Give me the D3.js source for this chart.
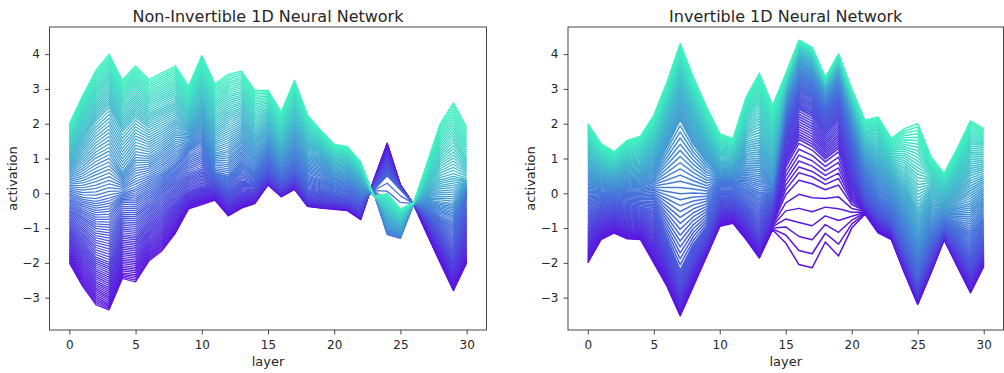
<!DOCTYPE html>
<html><head><meta charset="utf-8">
<script src="https://cdn.jsdelivr.net/npm/d3@7"></script>
<style>
body{margin:0;background:#fff}
svg{display:block}
text{font-family:"DejaVu Sans",sans-serif;fill:#262626}
</style>
</head><body>
<svg id="c" width="1004" height="373"></svg>
<script>
// ---------- data ----------
const layers = d3.range(0, 31);
const xTicks = [0, 5, 10, 15, 20, 25, 30];
const yTicks = [-3, -2, -1, 0, 1, 2, 3, 4];
const titles = ["Non-Invertible 1D Neural Network", "Invertible 1D Neural Network"];
const traceCount = 100;

// Non-invertible network: activation of selected inputs at each layer 0..30
const leftKeys = [-2, -1.85, -1.5, -1, -0.5, -0.3, 0, 0.5, 1, 1.5, 2];
const L_m200 = [-2, -2.67, -3.2, -3.35, -2.45, -2.55, -1.95, -1.65, -1.15, -0.45, -0.33, -0.2, -0.65, -0.43, -0.3, 0.24, -0.1, 0.11, -0.38, -0.43, -0.46, -0.5, -0.76, 0.4, 1.45, 0.25, -0.32, -1.18, -2.0, -2.8, -2.0];
const L_m185 = [-1.85, -2.5, -3.0, -3.2, -2.3, -2.35, -1.8, -1.5, -1.05, -0.38, -0.25, -0.15, -0.6, -0.38, -0.25, 0.26, -0.08, 0.14, -0.36, -0.4, -0.43, -0.47, -0.72, 0.38, 1.38, 0.23, -0.32, -1.1, -1.9, -2.7, -1.9];
const L_m150 = [-1.5, -2.05, -2.55, -2.75, -1.85, -1.9, -1.45, -1.15, -0.7, -0.25, -0.1, -0.05, -0.45, -0.25, -0.15, 0.3, -0.02, 0.2, -0.3, -0.35, -0.38, -0.42, -0.65, 0.33, 1.2, 0.2, -0.31, -0.95, -1.7, -2.45, -1.6];
const L_m100 = [-1, -1.4, -1.85, -2.0, -1.2, -1.25, -0.9, -0.6, -0.25, 0.05, 0.2, 0.15, -0.2, 0.0, 0.05, 0.45, 0.1, 0.35, -0.15, -0.2, -0.25, -0.3, -0.5, 0.25, 0.95, 0.16, -0.31, -0.8, -1.4, -2.0, -1.0];
const L_m050 = [-0.5, -0.75, -1.0, -1.05, -0.55, -0.55, -0.3, 0.0, 0.3, 0.55, 0.7, 0.35, 0.1, 0.35, 0.3, 0.7, 0.3, 0.6, 0.1, 0.05, -0.05, -0.1, -0.3, 0.18, 0.6, 0.12, -0.3, -0.65, -1.05, -1.4, -0.4];
const L_m030 = [-0.3, -0.51, -0.68, -0.67, -0.25, -0.27, -0.04, 0.22, 0.52, 0.81, 0.98, 0.45, 0.26, 0.57, 0.42, 0.86, 0.4, 0.76, 0.26, 0.19, 0.07, 0.02, -0.2, 0.1, 0.5, 0.1, -0.3, -0.55, -0.9, -1.15, -0.1];
const L_p000 = [0, -0.15, -0.2, -0.1, 0.0, 0.15, 0.35, 0.55, 0.85, 1.2, 1.4, 0.6, 0.5, 0.9, 0.6, 1.1, 0.55, 1.0, 0.5, 0.4, 0.25, 0.2, -0.05, 0.0, -1.2, -1.3, -0.3, -0.45, -0.7, -0.85, 0.1];
const L_p050 = [0.5, 0.7, 1.0, 1.2, 0.6, 1.1, 1.05, 1.3, 1.6, 1.6, 2.0, 1.15, 1.25, 1.55, 1.15, 1.5, 0.95, 1.5, 0.95, 0.85, 0.55, 0.5, 0.2, 0.0, -0.95, -1.15, -0.3, -0.2, -0.25, -0.3, 0.2];
const L_p100 = [1, 1.55, 2.1, 2.5, 1.8, 2.2, 1.9, 2.1, 2.3, 2.0, 2.6, 1.8, 2.05, 2.2, 1.7, 2.0, 1.35, 2.05, 1.4, 1.2, 0.85, 0.8, 0.45, -0.05, -0.65, -0.9, -0.29, 0.1, 0.4, 0.5, 0.4];
const L_p150 = [1.5, 2.25, 2.85, 3.3, 2.6, 2.95, 2.6, 2.8, 3.0, 2.5, 3.3, 2.5, 2.75, 2.85, 2.35, 2.45, 1.85, 2.65, 1.85, 1.5, 1.15, 1.1, 0.7, -0.08, -0.35, -0.65, -0.28, 0.45, 1.2, 1.6, 1.0];
const L_p200 = [2, 2.8, 3.53, 4.0, 3.25, 3.66, 3.27, 3.46, 3.66, 3.08, 3.96, 3.15, 3.42, 3.51, 2.96, 2.96, 2.34, 3.25, 2.24, 1.81, 1.41, 1.34, 0.9, -0.1, 0.0, -0.45, -0.27, 0.86, 2.0, 2.6, 1.9];

// Invertible network
const rightKeys = [-2, -1.75, -1.5, -1, -0.5, 0, 0.5, 1, 1.5, 2];
const R_m200 = [-2, -1.33, -1.14, -1.31, -1.33, -2.0, -2.67, -3.52, -2.67, -1.81, -0.95, -0.86, -1.33, -1.86, -1.05, -1.43, -2.05, -2.14, -1.4, -1.8, -1.0, -0.6, -1.14, -1.33, -2.29, -3.19, -2.29, -1.33, -2.1, -2.86, -2.1];
const R_m175 = [-1.75, -1.2, -1.03, -1.18, -1.22, -1.82, -2.47, -3.38, -2.48, -1.7, -0.83, -0.75, -1.18, -1.72, -0.88, 0.0, 0.45, 0.35, 0.15, 0.3, -0.3, -0.5, -1.02, -1.24, -2.22, -3.12, -2.22, -1.3, -2.02, -2.75, -2.0];
const R_m150 = [-1.5, -1.05, -0.9, -1.05, -1.1, -1.6, -2.25, -3.2, -2.3, -1.6, -0.72, -0.65, -1.05, -1.6, -0.75, 0.8, 1.5, 1.3, 0.95, 1.25, 0.1, -0.42, -0.9, -1.15, -2.12, -3.02, -2.12, -1.25, -1.92, -2.6, -1.9];
const R_m100 = [-1, -0.7, -0.6, -0.7, -0.75, -1.0, -1.85, -2.85, -2.0, -1.35, -0.45, -0.4, -0.75, -1.3, -0.45, 1.6, 2.4, 2.2, 1.7, 2.1, 0.7, -0.3, -0.75, -1.0, -1.9, -2.8, -1.9, -1.15, -1.7, -2.3, -1.65];
const R_m050 = [-0.5, -0.35, -0.3, -0.35, -0.4, -0.45, -1.3, -2.2, -1.45, -0.95, -0.1, -0.1, -0.35, -0.6, -0.15, 2.0, 2.9, 2.75, 2.2, 2.65, 1.3, 0.0, -0.5, -0.8, -1.6, -2.5, -1.6, -1.0, -1.4, -1.8, -1.25];
const R_p000 = [0, 0.0, 0.0, 0.05, 0.05, 0.1, 0.0, -0.1, -0.05, -0.05, 0.3, 0.3, 0.2, 0.05, 0.05, 2.35, 3.3, 3.15, 2.55, 3.05, 1.8, 0.5, -0.1, -0.4, -1.15, -2.0, -1.2, -0.8, -0.95, -1.1, -0.7];
const R_p050 = [0.5, 0.35, 0.3, 0.4, 0.45, 0.65, 1.35, 2.1, 1.4, 0.9, 0.55, 0.6, 0.8, 0.8, 0.4, 2.7, 3.7, 3.5, 2.85, 3.4, 2.2, 0.95, 0.5, 0.1, -0.5, -1.3, -0.6, -0.5, -0.4, -0.3, 0.0];
const R_p100 = [1, 0.7, 0.6, 0.8, 0.85, 1.2, 2.1, 3.0, 2.2, 1.5, 0.9, 0.9, 1.5, 1.6, 1.0, 2.98, 4.0, 3.8, 3.05, 3.65, 2.5, 1.35, 1.1, 0.6, 0.2, -0.4, 0.0, -0.15, 0.2, 0.6, 0.7];
const R_p150 = [1.5, 1.05, 0.9, 1.15, 1.25, 1.75, 2.7, 3.7, 2.8, 2.0, 1.3, 1.25, 2.2, 2.6, 1.8, 3.2, 4.22, 4.02, 3.2, 3.85, 2.75, 1.75, 1.7, 1.1, 1.05, 0.8, 0.55, 0.25, 0.8, 1.4, 1.35];
const R_p200 = [2, 1.43, 1.19, 1.52, 1.64, 2.24, 3.19, 4.3, 3.33, 2.48, 1.71, 1.57, 2.76, 3.45, 2.52, 3.43, 4.4, 4.2, 3.33, 4.0, 3.0, 2.1, 2.19, 1.57, 1.86, 2.0, 1.05, 0.57, 1.29, 2.08, 1.86];

const leftKeyLines = [L_m200, L_m185, L_m150, L_m100, L_m050, L_m030, L_p000, L_p050, L_p100, L_p150, L_p200];
const rightKeyLines = [R_m200, R_m175, R_m150, R_m100, R_m050, R_p000, R_p050, R_p100, R_p150, R_p200];

// ---------- drawing ----------
const svg = d3.select("#c");
const color = d3.scaleLinear().domain([-2, 0, 2]).range(["#5b12e0", "#4578da", "#3ff3c0"]).interpolate(d3.interpolateRgb);
const inputs = d3.range(traceCount).map(i => -2 + 4 * i / (traceCount - 1));

function panel(idx, x0, x1, keys, keyLines, sw) {
  const top = 27, bottom = 330;
  const x = d3.scaleLinear().domain([-1.5, 31.5]).range([x0, x1]);
  const y = d3.scaleLinear().domain([-3.93, 4.78]).range([bottom, top]);
  const g = svg.append("g");
  g.append("clipPath").attr("id", "clip" + idx)
    .append("rect").attr("x", x0).attr("y", top).attr("width", x1 - x0).attr("height", bottom - top);
  const maps = layers.map(l => d3.scaleLinear().domain(keys).range(keyLines.map(s => s[l])));
  const line = d3.line().x(d => x(d[0])).y(d => y(d[1]));
  const lg = g.append("g").attr("clip-path", `url(#clip${idx})`);
  lg.selectAll("path").data(inputs).join("path")
    .attr("d", v => line(layers.map(l => [l, maps[l](v)])))
    .attr("fill", "none")
    .attr("stroke", v => color(v))
    .attr("stroke-width", sw)
    .attr("stroke-linejoin", "round");

  const ax = g.append("g").attr("transform", `translate(0,${bottom})`)
    .call(d3.axisBottom(x).tickValues(xTicks).tickSize(4.5).tickPadding(6).tickFormat(d3.format("d")));
  const ay = g.append("g").attr("transform", `translate(${x0},0)`)
    .call(d3.axisLeft(y).tickValues(yTicks).tickSize(4.5).tickPadding(5).tickFormat(d3.format("d")));
  [ax, ay].forEach(a => {
    a.select(".domain").remove();
    a.selectAll("line").attr("stroke", "#333").attr("stroke-width", 0.9);
    a.selectAll("text").attr("font-size", 12).attr("fill", "#262626")
      .attr("font-family", "DejaVu Sans, sans-serif");
  });
  g.append("rect").attr("x", x0).attr("y", top).attr("width", x1 - x0).attr("height", bottom - top)
    .attr("fill", "none").attr("stroke", "#333").attr("stroke-width", 0.9);

  g.append("text").attr("x", (x0 + x1) / 2).attr("y", 21.5).attr("text-anchor", "middle")
    .attr("font-size", 16).text(titles[idx]);
  g.append("text").attr("x", (x0 + x1) / 2).attr("y", 366).attr("text-anchor", "middle")
    .attr("font-size", 13).text("layer");
  g.append("text").attr("transform", `translate(${x0 - 33},${(top + bottom) / 2}) rotate(-90)`)
    .attr("text-anchor", "middle").attr("font-size", 13).text("activation");
}

panel(0, 49.5, 486.5, leftKeys, leftKeyLines, 1.25);
panel(1, 568, 1003.5, rightKeys, rightKeyLines, 1.5);
</script>
</body></html>
